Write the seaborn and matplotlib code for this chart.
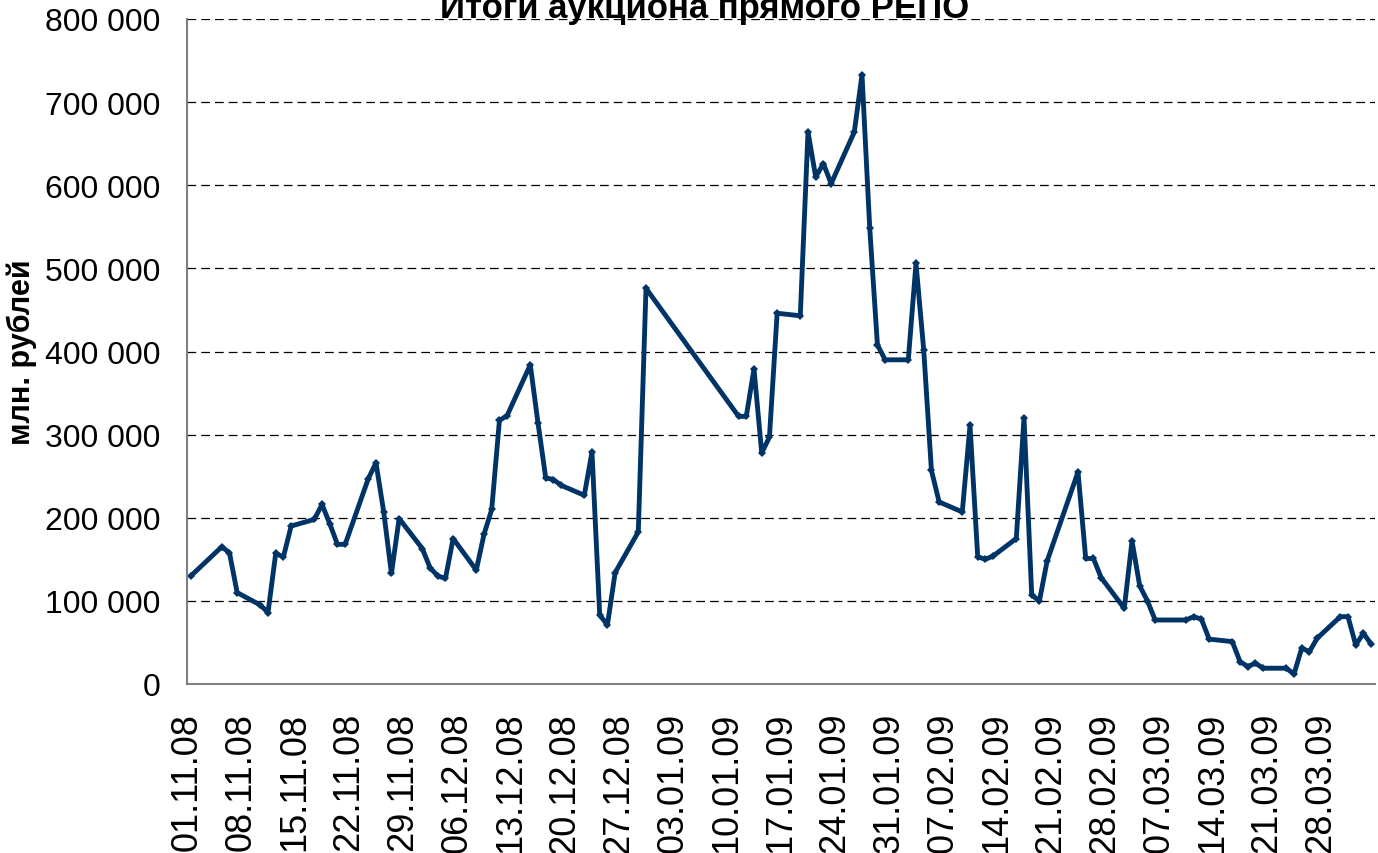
import matplotlib
matplotlib.use('Agg')
import matplotlib.pyplot as plt
import matplotlib.ticker as mticker
import seaborn as sns
import pandas as pd

# итоги аукциона прямого РЕПО, млн. рублей
dates = [
    '01.11.08', '05.11.08', '06.11.08', '07.11.08', '10.11.08', '11.11.08', '12.11.08', '13.11.08', '14.11.08',
    '17.11.08', '18.11.08', '19.11.08', '20.11.08', '21.11.08', '24.11.08', '25.11.08', '26.11.08', '27.11.08',
    '28.11.08', '01.12.08', '02.12.08', '03.12.08', '04.12.08', '05.12.08', '08.12.08', '09.12.08', '10.12.08',
    '11.12.08', '12.12.08', '15.12.08', '16.12.08', '17.12.08', '18.12.08', '19.12.08', '22.12.08', '23.12.08',
    '24.12.08', '25.12.08', '26.12.08', '29.12.08', '30.12.08', '11.01.09', '12.01.09', '13.01.09', '14.01.09',
    '15.01.09', '16.01.09', '19.01.09', '20.01.09', '21.01.09', '22.01.09', '23.01.09', '26.01.09', '27.01.09',
    '28.01.09', '29.01.09', '30.01.09', '02.02.09', '03.02.09', '04.02.09', '05.02.09', '06.02.09', '09.02.09',
    '10.02.09', '11.02.09', '12.02.09', '13.02.09', '16.02.09', '17.02.09', '18.02.09', '19.02.09', '20.02.09',
    '24.02.09', '25.02.09', '26.02.09', '27.02.09', '02.03.09', '03.03.09', '04.03.09', '05.03.09', '06.03.09',
    '10.03.09', '11.03.09', '12.03.09', '13.03.09', '16.03.09', '17.03.09', '18.03.09', '19.03.09', '20.03.09',
    '23.03.09', '24.03.09', '25.03.09', '26.03.09', '27.03.09', '30.03.09', '31.03.09', '01.04.09', '02.04.09',
    '03.04.09',
]
volumes = [
    130000, 165000, 158000, 110000, 95000, 86000, 157000, 153000, 190000,
    198000, 216000, 193000, 168000, 168000, 247000, 266000, 207000, 133000,
    199000, 163000, 140000, 130000, 127000, 175000, 137000, 180000, 210000,
    317000, 323000, 384000, 314000, 248000, 246000, 239000, 227000, 279000,
    83000, 71000, 134000, 183000, 476000, 322000, 322000, 379000, 278000,
    297000, 446000, 443000, 664000, 610000, 626000, 602000, 664000, 733000,
    549000, 408000, 390000, 390000, 506000, 402000, 257000, 219000, 207000,
    311000, 153000, 150000, 154000, 175000, 320000, 107000, 100000, 148000,
    255000, 151000, 151000, 128000, 91000, 172000, 118000, 100000, 77000,
    77000, 81000, 78000, 54000, 51000, 27000, 21000, 25000, 19000,
    19000, 12000, 43000, 39000, 55000, 81000, 81000, 47000, 61000,
    48000,
]
tick_labels = [
    '01.11.08', '08.11.08', '15.11.08', '22.11.08', '29.11.08', '06.12.08', '13.12.08', '20.12.08',
    '27.12.08', '03.01.09', '10.01.09', '17.01.09', '24.01.09', '31.01.09', '07.02.09', '14.02.09',
    '21.02.09', '28.02.09', '07.03.09', '14.03.09', '21.03.09', '28.03.09', '04.04.09',
]
y_ticks = [0, 100000, 200000, 300000, 400000, 500000, 600000, 700000, 800000]

title = 'Итоги аукциона прямого РЕПО'
y_title = 'млн. рублей'

df = pd.DataFrame({
    'date': pd.to_datetime(dates, format='%d.%m.%y') + pd.Timedelta(hours=12),
    'volume': volumes,
})
tick_dates = pd.to_datetime(tick_labels, format='%d.%m.%y')

sns.set_style('white')
plt.rcParams['font.family'] = ['Liberation Sans', 'DejaVu Sans']
plt.rcParams['text.color'] = 'black'
plt.rcParams['xtick.labelcolor'] = 'black'
plt.rcParams['ytick.labelcolor'] = 'black'

fig = plt.figure(figsize=(13.78, 8.54), dpi=100)
ax = fig.add_axes([187 / 1378, 1 - 685 / 854, (1375 - 187) / 1378, 665 / 854])

sns.lineplot(data=df, x='date', y='volume', ax=ax, color='#003366', linewidth=3.5,
             marker='D', markersize=4.5, markeredgewidth=0, estimator=None)

ax.set_xlim(tick_dates[0], tick_dates[-1])
ax.set_ylim(0, 800000)
ax.set_yticks(y_ticks)
ax.yaxis.set_major_formatter(mticker.FuncFormatter(lambda v, p: f'{v:,.0f}'.replace(',', ' ')))
ax.tick_params(axis='y', labelsize=23)

ax.set_xticks(tick_dates)
ax.set_xticklabels(tick_labels[:-1] + [''], rotation=90, fontsize=26, va='top')

ax.tick_params(axis='y', direction='inout', length=14, width=1, color='#444444', pad=12)
ax.tick_params(axis='x', direction='out', length=9, width=1, color='#666666', pad=11)

ax.grid(axis='y', color='black', linestyle=(0, (7, 4)), linewidth=0.9)
ax.set_axisbelow(True)
sns.despine(ax=ax, top=True, right=True)
for side in ['left', 'bottom']:
    ax.spines[side].set_color('#808080')
    ax.spines[side].set_linewidth(1.5)

ax.set_xlabel('')
ax.set_ylabel('')
fig.text(22 / 1378, 1 - 352 / 854, y_title, rotation=90, ha='center', va='center',
         fontsize=22, fontweight='bold')
fig.text(705 / 1378, 1 - 18 / 854, title, ha='center', va='baseline',
         fontsize=25, fontweight='bold')

fig.savefig('out.png', dpi=100)
